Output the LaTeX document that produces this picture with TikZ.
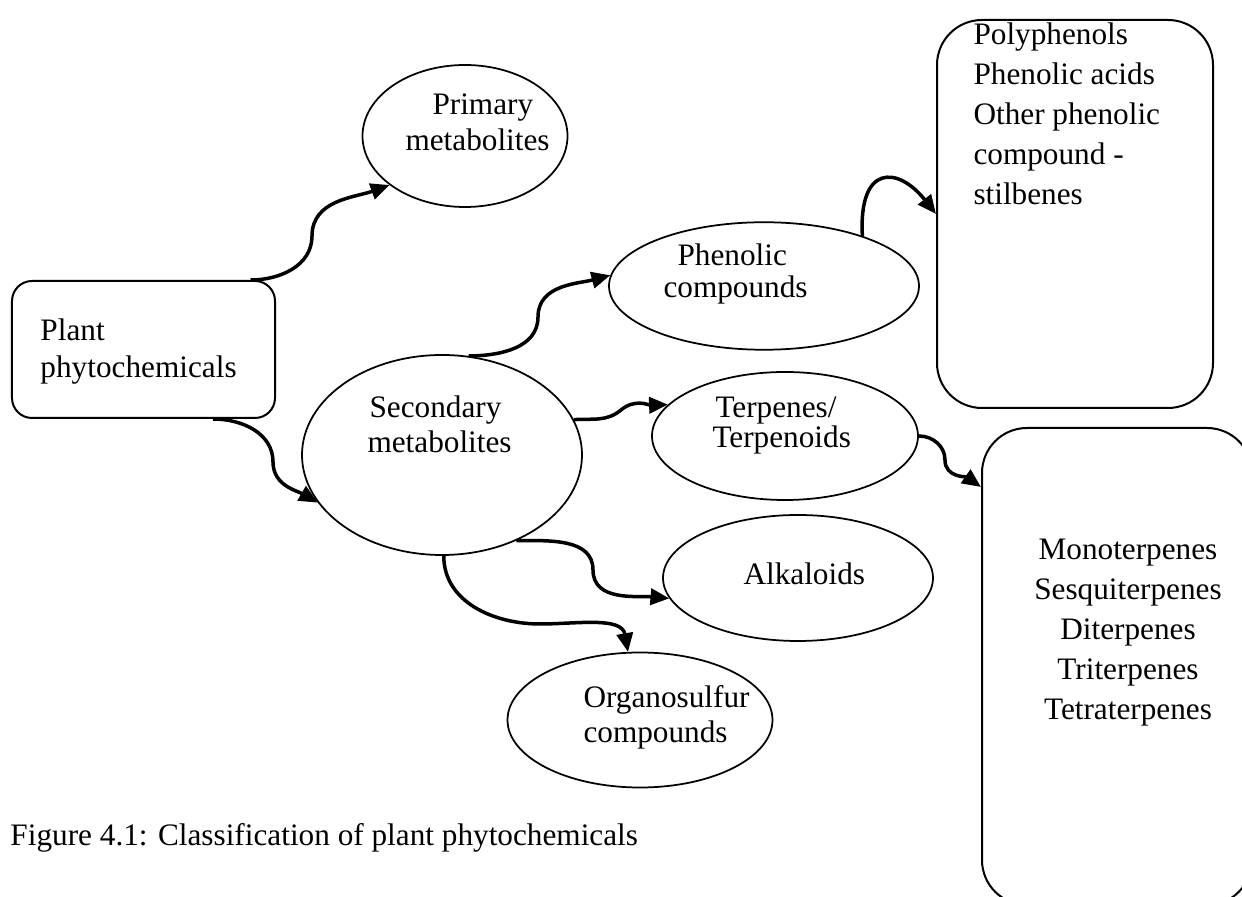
\documentclass[tikz,border=0pt]{standalone}
\usepackage{fontspec}
\setmainfont{Liberation Serif}
\usetikzlibrary{shapes.geometric,arrows.meta}
\tikzset{
  oval/.style={draw, ellipse, line width=0.7pt, inner sep=0pt},
  rbox/.style={draw, rectangle, line width=0.8pt, inner sep=0pt},
  lbl/.style={inner sep=0pt, font=\fontsize{12.5}{15}\selectfont},
  arr/.style={line width=1.4pt, -{Triangle[length=7.5pt,width=6.5pt]}}
}
\begin{document}
\begin{tikzpicture}[x=0.4pt,y=-0.4pt]
\useasboundingbox (0,0) rectangle (1242,897);
% boxes
\node[rbox, rounded corners=8pt, minimum width=105.2pt, minimum height=54.8pt] (plant) at (143.5,349.5) {};
\node[rbox, rounded corners=18pt, minimum width=110.4pt, minimum height=155.2pt] (phbox) at (1075,214) {};
\node[rbox, rounded corners=18pt, minimum width=108pt, minimum height=190.8pt] (tebox) at (1117,666.5) {};
% ellipses
\node[oval, minimum width=82pt, minimum height=56.8pt] (prim) at (465,136) {};
\node[oval, minimum width=124pt, minimum height=51pt] (phen) at (764,286) {};
\node[oval, minimum width=106.4pt, minimum height=51.2pt] (terp) at (785,436) {};
\node[oval, minimum width=108pt, minimum height=50.4pt] (alk) at (798,578) {};
\node[oval, minimum width=112pt, minimum height=80pt] (sec) at (442,455) {};
\node[oval, minimum width=106pt, minimum height=54pt] (org) at (640,720) {};
% texts
\node[lbl, anchor=base west] (t1) at (40,341) {Plant};
\node[lbl, anchor=base west] (t2) at (40,378) {phytochemicals};
\node[lbl, anchor=base west] (t3) at (432,115) {Primary};
\node[lbl, anchor=base west] (t4) at (405,151) {metabolites};
\node[lbl, anchor=base west] (t5) at (677,266) {Phenolic};
\node[lbl, anchor=base west] (t6) at (663,298) {compounds};
\node[lbl, anchor=base west] (t7) at (369,418) {Secondary};
\node[lbl, anchor=base west] (t8) at (367,453) {metabolites};
\node[lbl, anchor=base west] (t9) at (715,418) {Terpenes/};
\node[lbl, anchor=base west] (t10) at (712,448) {Terpenoids};
\node[lbl, anchor=base west] (t11) at (743,585) {Alkaloids};
\node[lbl, anchor=base west] (t12) at (583,708) {Organosulfur};
\node[lbl, anchor=base west] (t13) at (583,743) {compounds};
\node[lbl, anchor=base west] (p1) at (973,45) {Polyphenols};
\node[lbl, anchor=base west] (p2) at (973,85) {Phenolic acids};
\node[lbl, anchor=base west] (p3) at (973,125) {Other phenolic};
\node[lbl, anchor=base west] (p4) at (973,165) {compound -};
\node[lbl, anchor=base west] (p5) at (973,205) {stilbenes};
\node[lbl, anchor=base] (m1) at (1128,560) {Monoterpenes};
\node[lbl, anchor=base] (m2) at (1128,600) {Sesquiterpenes};
\node[lbl, anchor=base] (m3) at (1128,640) {Diterpenes};
\node[lbl, anchor=base] (m4) at (1128,680) {Triterpenes};
\node[lbl, anchor=base] (m5) at (1128,720) {Tetraterpenes};
\node[lbl, anchor=base west] (cap) at (10,846) {Figure 4.1: Classification of plant phytochemicals};
% connectors
\draw[arr] (plant.33) to[out=0,in=-90] (312,236) to[out=90,in=200] (prim.213);
\draw[arr] (plant.-45) to[out=0,in=90] (273,462) to[out=-90,in=150] (sec.201);
\draw[arr] (sec.75) to[out=0,in=-90] (538,317) to[out=90,in=195] (phen.176);
\draw[arr] (sec.15) to[out=4,in=-140] (621,410) to[out=40,in=182] (terp.165);
\draw[arr] (sec.-49) to[out=0,in=90] (593,570) to[out=-90,in=175] (alk.189);
\draw[arr] (sec.-89) to[out=-90,in=180] (540,624) to[out=0,in=100] (org.100);
\draw[arr] (phen.27) .. controls +(-4,-72) and +(-38,-48) .. (phbox.west);
\draw[arr] (terp.0) to[out=0,in=90] (945,460) to[out=-90,in=145] ([yshift=-24pt]tebox.north west);
\end{tikzpicture}
\end{document}
